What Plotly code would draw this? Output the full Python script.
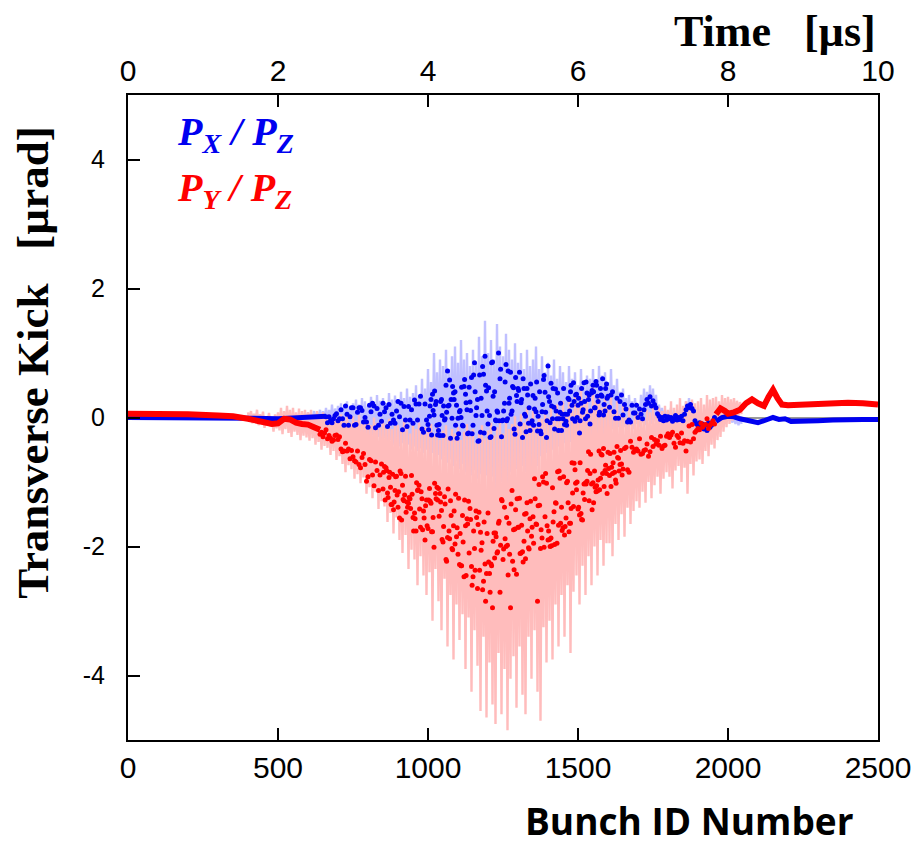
import numpy as np
import plotly.graph_objects as go

# ---------------- data ----------------
# calm parts (thick lines)
red_left_bunch = [0, 100, 200, 300, 350, 400, 450, 480, 500, 520, 540, 560, 580, 600, 620, 640]
red_left_val = [0.06, 0.06, 0.05, 0.03, 0.02, -0.02, -0.07, -0.10, -0.09, -0.02, -0.03, -0.08, -0.10, -0.11, -0.15, -0.19]
red_right_bunch = [1960, 1975, 1990, 2000, 2020, 2040, 2060, 2080, 2100, 2120, 2135, 2150, 2165, 2180, 2200, 2250, 2300, 2350, 2400, 2450, 2500]
red_right_val = [0.05, 0.14, 0.10, 0.06, 0.08, 0.12, 0.22, 0.28, 0.22, 0.18, 0.32, 0.43, 0.30, 0.20, 0.19, 0.20, 0.22, 0.23, 0.23, 0.22, 0.20]
blue_left_bunch = [0, 100, 200, 300, 400, 500, 600, 660]
blue_left_val = [0.0, 0.0, 0.0, -0.01, -0.01, -0.02, 0.0, 0.02]
blue_right_bunch = [1960, 1980, 2000, 2020, 2040, 2060, 2080, 2100, 2120, 2140, 2150, 2170, 2190, 2210, 2250, 2300, 2350, 2400, 2450, 2500]
blue_right_val = [-0.06, 0.0, 0.02, 0.01, -0.02, -0.04, -0.06, -0.08, -0.05, -0.01, 0.0, -0.03, -0.02, -0.06, -0.06, -0.05, -0.04, -0.03, -0.03, -0.03]

# sampled bunches (dots), one value every 5 bunches
red_dots_start = 640
red_dots = [
    -0.26, -0.23, -0.30, -0.24, -0.19, -0.33, -0.28, -0.32, -0.37, -0.35,
    -0.28, -0.27, -0.34, -0.30, -0.49, -0.53, -0.52, -0.40, -0.52, -0.49,
    -0.64, -0.51, -0.61, -0.67, -0.69, -0.52, -0.73, -0.78, -0.62, -0.56,
    -0.73, -0.99, -0.92, -0.65, -0.67, -0.89, -1.06, -0.69, -0.82, -1.13,
    -0.89, -0.72, -1.11, -0.76, -0.78, -1.17, -0.93, -1.08, -1.35, -1.43,
    -1.13, -0.91, -1.39, -1.56, -0.87, -1.05, -1.29, -0.91, -1.31, -1.33,
    -1.26, -0.90, -1.55, -1.48, -1.76, -1.13, -1.05, -1.70, -1.26, -1.45,
    -1.90, -1.28, -1.72, -1.10, -1.33, -1.77, -2.01, -1.18, -1.08, -1.10,
    -1.18, -1.44, -1.93, -1.23, -2.20, -1.86, -1.76, -1.29, -2.03, -1.68,
    -1.96, -1.85, -2.12, -2.28, -2.30, -1.52, -2.47, -1.68, -1.57, -1.30,
    -1.41, -2.31, -2.47, -2.03, -1.45, -2.65, -1.47, -1.78, -1.94, -2.54,
    -2.27, -2.42, -1.48, -2.42, -2.27, -2.95, -1.79, -1.79, -2.10, -1.64,
    -2.71, -1.27, -2.20, -1.39, -2.00, -1.98, -1.64, -2.95, -1.13, -1.74,
    -1.73, -2.43, -1.70, -1.25, -2.10, -2.08, -1.92, -2.19, -1.32, -2.02,
    -1.57, -1.84, -1.54, -0.95, -1.65, -2.85, -1.04, -2.03, -1.87, -1.00,
    -1.54, -1.02, -1.90, -1.89, -1.87, -1.09, -1.46, -1.32, -1.95, -1.67,
    -0.94, -1.39, -1.71, -1.82, -1.56, -0.99, -1.77, -1.64, -0.70, -1.38,
    -0.81, -1.12, -1.42, -1.51, -1.49, -1.59, -1.03, -1.01, -0.99, -0.53,
    -0.87, -1.03, -1.01, -0.83, -1.15, -1.14, -0.52, -0.94, -0.58, -0.48,
    -0.82, -0.87, -0.54, -0.90, -1.07, -0.87, -0.54, -0.97, -0.45, -0.63,
    -0.73, -0.72, -0.80, -0.48, -0.46, -0.81, -0.85, -0.37, -0.46, -0.54,
    -0.50, -0.49, -0.52, -0.33, -0.57, -0.56, -0.51, -0.50, -0.41, -0.60,
    -0.53, -0.31, -0.45, -0.34, -0.41, -0.36, -0.43, -0.29, -0.48, -0.44,
    -0.43, -0.29, -0.25, -0.31, -0.27, -0.23, -0.40, -0.46, -0.28, -0.31,
    -0.39, -0.24, -0.40, -0.36, -0.52, -0.37, -0.13, -0.38, -0.11, -0.33,
    -0.23, -0.20, -0.17, -0.19, -0.09, -0.15, -0.12, -0.11, -0.02, -0.17,
    -0.12, -0.09, -0.05, -0.10,
]
red_dots_b_start = 852
red_dots_b = [
    -0.85, -1.28, -0.82, -1.24, -0.85, -1.35, -0.88, -1.31, -0.92, -1.20,
    -1.15, -0.83, -1.59, -1.27, -1.20, -1.47, -1.39, -1.24, -1.41, -1.19,
    -1.76, -1.57, -1.01, -1.12, -1.42, -1.15, -1.74, -1.56, -1.37, -1.68,
    -1.28, -1.30, -1.77, -1.55, -1.02, -1.26, -1.28, -1.53, -1.31, -1.89,
    -1.69, -1.34, -2.23, -1.11, -1.88, -1.52, -2.05, -1.45, -1.19, -1.71,
    -1.25, -1.80, -2.30, -1.93, -1.28, -2.45, -1.65, -2.10, -1.58, -2.60,
    -1.76, -2.37, -1.55, -1.66, -2.37, -2.06, -2.67, -1.62, -2.85, -1.80,
    -2.24, -2.71, -2.30, -1.92, -2.18, -1.85, -2.08, -1.61, -1.98, -1.29,
    -2.04, -1.88, -1.55, -2.44, -2.12, -1.34, -2.23, -2.36, -1.43, -1.26,
    -1.70, -2.11, -1.67, -2.24, -1.50, -1.49, -1.76, -2.04, -1.30, -1.70,
    -1.95, -1.26, -1.66, -1.37, -1.36, -1.74, -0.92, -2.01, -0.87, -1.68,
    -1.76, -2.00, -1.99, -1.62, -1.97, -1.33, -0.84, -0.83, -1.64, -1.75,
    -0.92, -1.69, -1.01, -1.32, -1.64, -1.41, -1.17, -0.71, -1.02, -1.00,
    -1.39, -0.70, -1.58, -1.17, -1.27, -1.03, -0.82, -1.29, -0.57, -1.43,
    -1.32, -1.08, -1.06, -0.97, -1.12, -0.57, -0.87, -1.07, -0.74, -1.18,
    -0.79, -0.56, -0.77, -0.70, -0.85, -1.02, -0.62, -0.83, -0.51, -0.89,
]
blue_dots_start = 660
blue_dots = [
    0.01, -0.08, 0.01, -0.05, -0.08, -0.02, 0.03, 0.06, -0.05, -0.02,
    0.12, -0.02, -0.12, 0.18, 0.05, -0.12, 0.01, 0.15, 0.15, -0.12,
    -0.11, 0.08, 0.15, 0.15, 0.11, -0.07, 0.00, -0.07, -0.15, 0.19,
    0.09, 0.22, 0.18, -0.16, 0.14, -0.12, 0.05, -0.06, 0.22, 0.09,
    0.15, -0.14, 0.20, -0.09, 0.05, -0.04, -0.09, 0.10, 0.25, 0.01,
    0.22, -0.19, 0.17, -0.04, -0.14, 0.17, -0.04, 0.12, -0.09, 0.27,
    0.21, -0.04, 0.21, 0.33, -0.18, -0.23, 0.21, -0.04, -0.11, 0.02,
    0.28, 0.36, 0.04, 0.20, -0.12, -0.20, -0.28, 0.28, -0.28, -0.04,
    0.50, 0.72, 0.19, -0.32, -0.01, 0.38, 0.40, 0.19, -0.01, 0.09,
    0.00, -0.12, 0.48, 0.36, 0.12, -0.24, 0.24, 0.62, -0.12, 0.85,
    0.03, 0.28, -0.36, -0.23, 0.03, 0.67, 0.95, 0.41, -0.10, 0.03,
    -0.30, 0.86, -0.17, -0.04, 0.10, 1.00, 0.60, -0.30, -0.04, 0.22,
    0.82, -0.02, 0.22, 0.70, 0.10, 0.46, -0.26, 0.34, 0.45, 0.70,
    0.23, -0.31, 0.45, 0.02, 0.45, -0.09, -0.20, -0.09, 0.34, 0.13,
    0.09, -0.21, -0.11, -0.21, 0.09, 0.59, 0.39, -0.31, 0.80, 0.25,
    0.53, -0.02, 0.16, 0.44, -0.02, -0.20, 0.08, -0.20, -0.02, -0.11,
    -0.06, 0.05, 0.28, 0.40, 0.19, 0.54, -0.06, 0.36, 0.19, -0.24,
    0.22, 0.08, 0.54, -0.02, 0.38, 0.28, -0.10, 0.38, 0.50, 0.15,
    0.56, 0.33, 0.04, 0.45, 0.33, 0.04, 0.10, 0.52, 0.33, 0.16,
    0.35, 0.40, 0.09, -0.01, 0.30, -0.01, 0.25, 0.35, 0.04, 0.20,
    0.13, -0.07, -0.04, -0.07, 0.19, 0.07, 0.07, 0.19, 0.00, 0.13,
    0.05, -0.02, 0.12, 0.20, 0.28, 0.22, 0.32, 0.18, 0.26, 0.20,
    0.15, 0.06, 0.02, -0.03, 0.00, -0.05, 0.02, -0.04, 0.01, -0.02,
    0.00, -0.06, -0.02, 0.03, -0.04, 0.00, -0.03, 0.02, -0.05, 0.05,
    0.12, 0.18, 0.15, 0.20, 0.14, 0.10, -0.05, -0.10, -0.12, -0.08,
    -0.15, -0.10, -0.18, -0.12, -0.20, -0.08, -0.15, -0.12, -0.05, 0.00,
]
blue_dots_b_start = 1002
blue_dots_b = [
    -0.19, 0.18, -0.27, 0.11, 0.41, 0.25, -0.27, -0.11, 0.25, 0.03,
    0.18, -0.02, 0.08, 0.18, 0.58, 0.28, 0.48, 0.28, -0.12, -0.32,
    -0.25, 0.11, 0.47, -0.13, 0.59, 0.23, -0.25, 0.47, 0.11, -0.25,
    0.66, 0.40, 0.15, -0.37, 0.66, 0.30, 0.79, -0.24, 0.50, 0.10,
    0.46, -0.31, 0.85, 0.33, 0.40, -0.05, 0.08, -0.05, 0.75, -0.05,
    0.10, 0.55, -0.05, 0.72, 0.30, 0.05, 0.48, -0.18, 0.62, 0.25,
    0.42, -0.10, 0.28, 0.60, 0.05, -0.22, 0.35, 0.15, 0.52, -0.05,
    -0.12, 0.30, 0.55, 0.02, 0.40, -0.25, 0.20, 0.65, 0.08, -0.05,
    0.32, -0.08, 0.18, 0.45, -0.18, 0.10, 0.38, -0.02, 0.22, 0.05,
    0.45, 0.05, -0.12, 0.30, 0.10, 0.50, -0.02, 0.25, 0.35, 0.00,
    0.30, -0.05, 0.45, 0.12, 0.25, 0.55, 0.02, 0.35, 0.10, 0.42,
    0.40, 0.15, 0.50, 0.25, 0.08, 0.35, 0.60, 0.20, 0.45, 0.30,
]

# light raw traces: alternate extremes, one pair every 10 bunches
red_env_start = 400
red_env_upper = [
    0.08, 0.10, 0.06, 0.12, 0.05, 0.09, 0.02, 0.07, 0.00, 0.05,
    0.08, 0.15, 0.10, 0.18, 0.12, 0.15, 0.08, 0.14, 0.10, 0.12,
    0.08, 0.12, 0.05, 0.10, 0.02, 0.08, 0.00, 0.05, -0.02, 0.06,
    0.00, 0.05, -0.05, 0.03, -0.08, 0.02, -0.05, 0.04, -0.10, -0.02,
    -0.05, -0.12, 0.00, -0.08, -0.15, -0.05, -0.10, -0.02, -0.18, -0.08,
    -0.12, -0.20, -0.05, -0.15, -0.25, -0.10, -0.18, -0.08, -0.22, -0.15,
    -0.20, -0.10, -0.28, -0.15, -0.35, -0.20, -0.12, -0.30, -0.18, -0.25,
    -0.15, -0.35, -0.22, -0.10, -0.30, -0.18, -0.40, -0.25, -0.12, -0.32,
    -0.20, -0.08, -0.28, -0.15, -0.05, -0.25, 0.00, -0.18, -0.10, 0.02,
    -0.12, 0.05, -0.08, 0.15, -0.05, 0.10, -0.15, 0.05, -0.02, 0.12,
    0.00, 0.15, -0.05, 0.20, 0.08, 0.25, 0.02, 0.30, 0.10, 0.35,
    0.15, 0.45, 0.20, 0.38, 0.10, 0.50, 0.25, 0.35, 0.15, 0.30,
    0.20, 0.35, 0.10, 0.25, 0.05, 0.20, 0.00, 0.15, -0.05, 0.10,
    0.05, 0.15, 0.00, 0.12, 0.08, 0.20, 0.05, 0.15, 0.10, 0.18,
    0.12, 0.25, 0.15, 0.20, 0.30, 0.18, 0.25, 0.15, 0.28, 0.22,
    0.25, 0.30, 0.20, 0.35, 0.28, 0.30, 0.32, 0.25, 0.35, 0.30,
    0.32, 0.28, 0.30, 0.26, 0.24,
]
red_env_lower = [
    -0.05, -0.09, -0.07, -0.12, -0.08, -0.16, -0.11, -0.14, -0.22, -0.17,
    -0.20, -0.26, -0.18, -0.24, -0.30, -0.22, -0.27, -0.35, -0.28, -0.31,
    -0.36, -0.32, -0.42, -0.38, -0.50, -0.44, -0.47, -0.58, -0.52, -0.66,
    -0.60, -0.72, -0.85, -0.74, -0.80, -0.95, -0.88, -1.02, -0.93, -1.18,
    -1.08, -1.25, -1.15, -1.42, -1.30, -1.38, -1.62, -1.48, -1.80, -1.55,
    -1.90, -2.10, -1.82, -2.35, -2.05, -2.20, -2.60, -2.15, -2.45, -2.75,
    -2.40, -3.15, -2.35, -2.85, -3.30, -2.50, -3.55, -2.75, -3.75, -2.90,
    -3.45, -3.05, -3.90, -3.10, -4.25, -3.30, -3.85, -4.55, -3.40, -4.65,
    -3.80, -4.45, -4.75, -3.65, -4.60, -3.90, -4.85, -4.05, -3.70, -4.50,
    -3.55, -4.30, -4.60, -3.40, -4.05, -3.30, -4.25, -4.70, -3.25, -3.80,
    -3.15, -3.75, -2.90, -3.55, -2.75, -3.40, -2.60, -3.65, -2.70, -2.45,
    -2.90, -2.30, -2.75, -2.15, -2.60, -2.00, -2.45, -1.90, -2.30, -1.95,
    -1.95, -2.15, -1.65, -1.90, -1.50, -1.85, -1.40, -1.65, -1.45, -1.30,
    -1.40, -1.15, -1.32, -1.00, -1.25, -1.05, -0.92, -1.18, -0.95, -0.85,
    -0.92, -1.10, -0.82, -0.75, -1.00, -0.78, -1.18, -0.72, -0.90, -0.68,
    -0.65, -0.72, -0.52, -0.60, -0.42, -0.48, -0.35, -0.30, -0.22, -0.15,
    -0.10, -0.05, -0.02, 0.02, 0.05,
]
blue_env_start = 550
blue_env_upper = [
    0.03, 0.05, 0.04, 0.06, 0.05, 0.08, 0.06, 0.10, 0.08, 0.12,
    0.10, 0.15, 0.12, 0.20, 0.14, 0.18, 0.22, 0.15, 0.25, 0.18,
    0.22, 0.28, 0.20, 0.30, 0.25, 0.18, 0.32, 0.24, 0.35, 0.26,
    0.30, 0.22, 0.38, 0.28, 0.34, 0.25, 0.40, 0.30, 0.45, 0.32,
    0.38, 0.50, 0.35, 0.60, 0.45, 0.75, 0.55, 1.00, 0.70, 0.90,
    0.80, 1.05, 0.75, 0.95, 1.10, 0.85, 1.20, 0.90, 1.00, 0.80,
    1.05, 0.85, 1.25, 0.95, 1.50, 1.00, 1.20, 0.90, 1.45, 1.10,
    0.95, 1.30, 1.05, 0.90, 1.15, 0.85, 1.00, 0.75, 1.05, 0.80,
    0.90, 1.10, 0.75, 0.95, 0.70, 0.85, 0.65, 0.90, 0.60, 0.80,
    0.70, 0.55, 0.80, 0.60, 0.70, 0.50, 0.75, 0.55, 0.65, 0.60,
    0.75, 0.55, 0.80, 0.65, 0.70, 0.55, 0.75, 0.50, 0.60, 0.40,
    0.45, 0.30, 0.35, 0.25, 0.30, 0.20, 0.35, 0.45, 0.40, 0.50,
    0.45, 0.35, 0.20, 0.15, 0.12, 0.10, 0.15, 0.08, 0.12, 0.10,
    0.15, 0.25, 0.30, 0.25, 0.15, 0.05, 0.00, 0.02, 0.00, 0.05,
    0.05, 0.08, 0.10, 0.08, 0.06, 0.05, 0.04, 0.05, 0.03, 0.02,
]
blue_env_lower = [
    -0.03, -0.04, -0.03, -0.05, -0.04, -0.06, -0.05, -0.08, -0.06, -0.10,
    -0.10, -0.15, -0.12, -0.18, -0.14, -0.20, -0.16, -0.22, -0.18, -0.25,
    -0.20, -0.28, -0.22, -0.30, -0.25, -0.33, -0.28, -0.35, -0.30, -0.38,
    -0.32, -0.40, -0.35, -0.42, -0.38, -0.45, -0.40, -0.48, -0.42, -0.50,
    -0.45, -0.52, -0.48, -0.55, -0.50, -0.58, -0.55, -0.62, -0.58, -0.65,
    -0.60, -0.70, -0.65, -0.75, -0.68, -0.80, -0.72, -0.85, -0.78, -0.90,
    -0.82, -0.95, -0.88, -1.00, -0.90, -1.05, -0.92, -1.10, -0.95, -1.00,
    -0.90, -1.05, -0.85, -0.95, -0.80, -0.90, -0.75, -0.85, -0.70, -0.80,
    -0.65, -0.75, -0.60, -0.70, -0.55, -0.65, -0.50, -0.60, -0.45, -0.55,
    -0.40, -0.50, -0.38, -0.45, -0.35, -0.42, -0.30, -0.40, -0.28, -0.35,
    -0.25, -0.32, -0.22, -0.30, -0.20, -0.28, -0.18, -0.25, -0.15, -0.22,
    -0.15, -0.20, -0.12, -0.18, -0.10, -0.15, -0.08, -0.12, -0.05, -0.10,
    -0.06, -0.10, -0.08, -0.12, -0.10, -0.15, -0.12, -0.10, -0.14, -0.12,
    -0.15, -0.12, -0.10, -0.18, -0.22, -0.25, -0.28, -0.30, -0.26, -0.24,
    -0.22, -0.18, -0.12, -0.08, -0.06, -0.05, -0.08, -0.10, -0.12, -0.10,
]

x_ticks = [0, 500, 1000, 1500, 2000, 2500]
time_ticks = [0, 2, 4, 6, 8, 10]
y_ticks = [-4, -2, 0, 2, 4]
y_ticktext = ["-4", "-2", "0", "2", "4"]

# ---------------- figure ----------------
BLUE = "#0000f0"
RED = "#ff0000"
LBLUE = "#c0c0ff"
PINK = "#ffbcbc"


def bunches(start, vals, step):
    return start + step * np.arange(len(vals))


def zigzag(start, upper, lower, step):
    """Raw trace drawn as alternating extremes (upper at b, lower at b + step/2)."""
    xs, ys = [], []
    for i, (u, l) in enumerate(zip(upper, lower)):
        b = start + step * i
        xs += [b, b + step / 2]
        ys += [u, l]
    return xs, ys


fig = go.Figure()

# light raw traces
bx, by = zigzag(blue_env_start, blue_env_upper, blue_env_lower, 10)
fig.add_trace(go.Scatter(x=bx, y=by, mode="lines", line=dict(color=LBLUE, width=2.4),
                         hoverinfo="skip"))
rx, ry = zigzag(red_env_start, red_env_upper, red_env_lower, 10)
fig.add_trace(go.Scatter(x=rx, y=ry, mode="lines", line=dict(color=PINK, width=2.4),
                         hoverinfo="skip"))

# blue data
fig.add_trace(go.Scatter(x=blue_left_bunch, y=blue_left_val, mode="lines",
                         line=dict(color=BLUE, width=5)))
fig.add_trace(go.Scatter(x=blue_right_bunch, y=blue_right_val, mode="lines",
                         line=dict(color=BLUE, width=5)))
fig.add_trace(go.Scatter(x=bunches(blue_dots_start, blue_dots, 5), y=blue_dots, mode="markers",
                         marker=dict(color=BLUE, size=5)))
fig.add_trace(go.Scatter(x=bunches(blue_dots_b_start, blue_dots_b, 5), y=blue_dots_b, mode="markers",
                         marker=dict(color=BLUE, size=5)))

# red data
fig.add_trace(go.Scatter(x=red_left_bunch, y=red_left_val, mode="lines",
                         line=dict(color=RED, width=6)))
fig.add_trace(go.Scatter(x=red_right_bunch, y=red_right_val, mode="lines",
                         line=dict(color=RED, width=6)))
fig.add_trace(go.Scatter(x=bunches(red_dots_start, red_dots, 5), y=red_dots, mode="markers",
                         marker=dict(color=RED, size=5)))
fig.add_trace(go.Scatter(x=bunches(red_dots_b_start, red_dots_b, 5), y=red_dots_b, mode="markers",
                         marker=dict(color=RED, size=5)))

# invisible trace for the time axis
fig.add_trace(go.Scatter(x=[0, 10], y=[None, None], xaxis="x2", mode="lines", hoverinfo="skip"))

tick_font = dict(family="Liberation Sans, Arial, sans-serif", size=30, color="black")
axis_common = dict(showline=True, linecolor="black", linewidth=2, ticks="inside", ticklen=12,
                   tickwidth=2, tickcolor="black", showgrid=False, zeroline=False, automargin=False)

# the page adds an 8 px body margin, so the figure is 8 px smaller than the window
fig.update_layout(
    template="none",
    width=914, height=837,
    margin=dict(l=120, r=44, t=87, b=105, pad=0),
    plot_bgcolor="white", paper_bgcolor="white",
    showlegend=False,
    xaxis=dict(range=[0, 2500], tickvals=x_ticks, mirror=True, tickfont=tick_font, **axis_common),
    xaxis2=dict(range=[0, 10], tickvals=time_ticks, overlaying="x", side="top",
                tickfont=tick_font, **axis_common),
    yaxis=dict(range=[-5, 5], tickvals=y_ticks, ticktext=y_ticktext, mirror=True,
               tickfont=dict(family="Liberation Sans, Arial", size=25, color="black"),
               ticklabelstandoff=16, automargin=False,
               showline=True, linecolor="black", linewidth=2, ticks="inside", ticklen=12,
               tickwidth=2, tickcolor="black", showgrid=False,
               zeroline=True, zerolinecolor="#9a9a9a", zerolinewidth=1.5),
)

serif = "Liberation Serif, Times New Roman, serif"
fig.add_annotation(text="<b>Time\u00a0\u00a0\u00a0[\u00b5s]</b>", xref="paper", yref="paper",
                   x=1.0, y=1.098, xanchor="right", yanchor="middle", showarrow=False,
                   font=dict(family=serif, size=44, color="black"))
fig.add_annotation(text="<b>Transverse Kick\u00a0\u00a0\u00a0[\u00b5rad]</b>", xref="paper", yref="paper",
                   x=-0.127, y=0.586, xanchor="center", yanchor="middle", textangle=-90,
                   showarrow=False, font=dict(family=serif, size=45, color="black"))
fig.add_annotation(text="<b>Bunch ID Number</b>", xref="paper", yref="paper",
                   x=0.749, y=-0.125, xanchor="center", yanchor="middle", showarrow=False,
                   font=dict(family="Open Sans, Noto Sans, sans-serif", size=37, color="black"))
fig.add_annotation(text="<b><i>P<sub>X</sub> / P<sub>Z</sub></i></b>", xref="paper", yref="paper",
                   x=0.062, y=0.94, xanchor="left", yanchor="middle", showarrow=False,
                   font=dict(family=serif, size=40, color=BLUE))
fig.add_annotation(text="<b><i>P<sub>Y</sub> / P<sub>Z</sub></i></b>", xref="paper", yref="paper",
                   x=0.062, y=0.853, xanchor="left", yanchor="middle", showarrow=False,
                   font=dict(family=serif, size=40, color=RED))

fig.write_html("out.html")
